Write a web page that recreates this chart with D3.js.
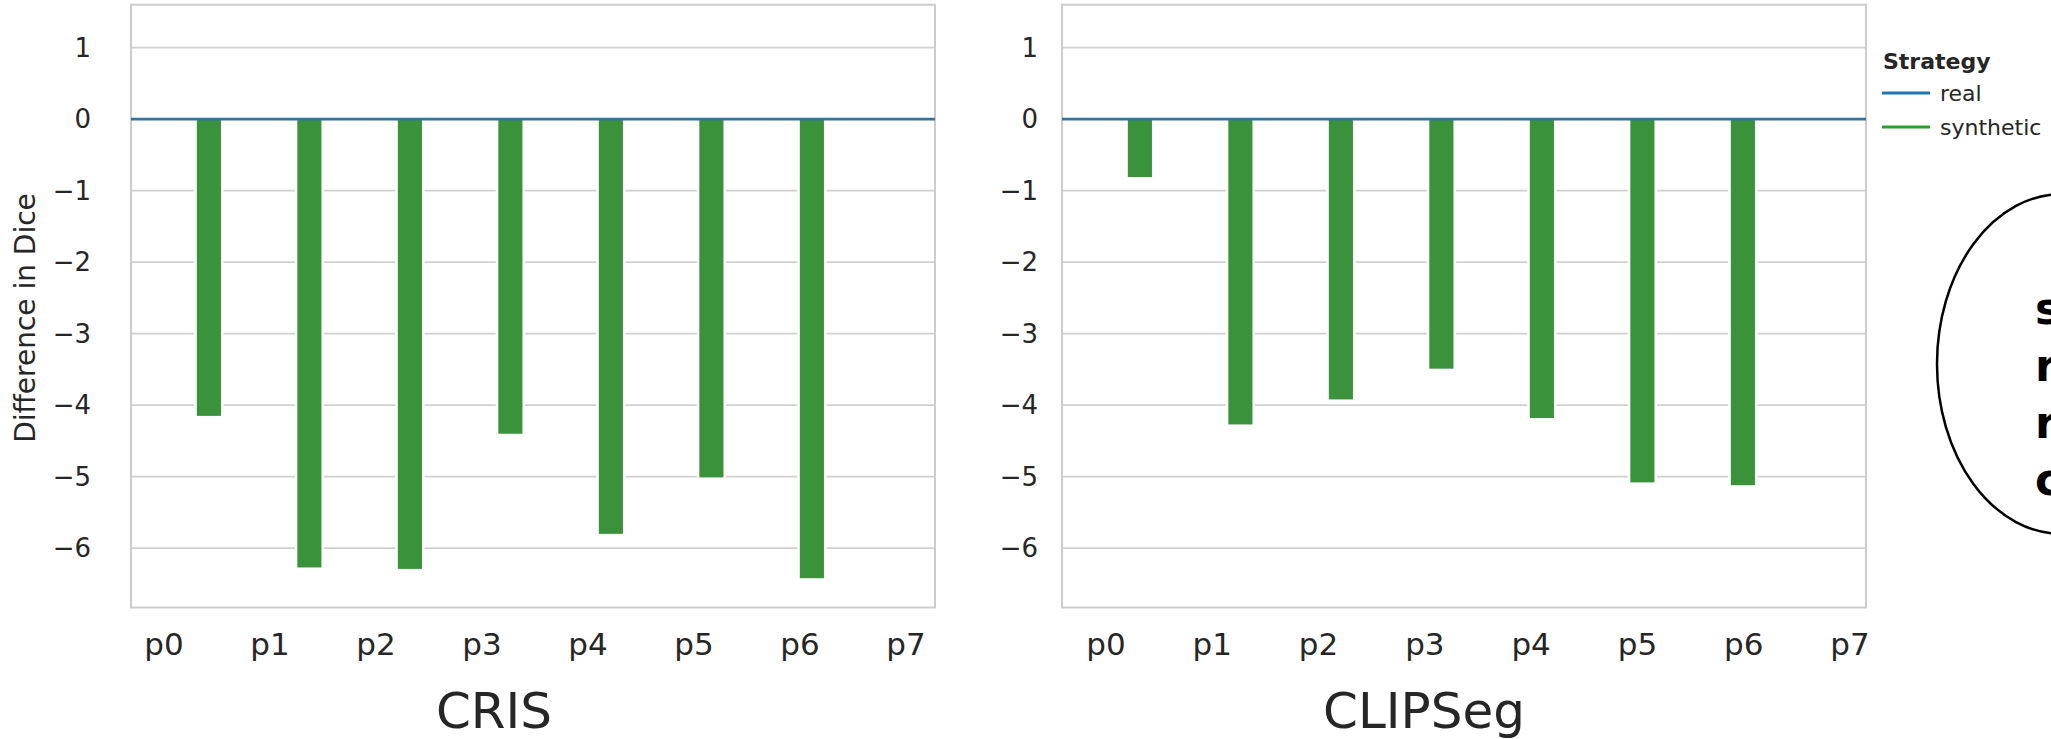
<!DOCTYPE html>
<html>
<head>
<meta charset="utf-8">
<script src="https://cdn.jsdelivr.net/npm/d3@7"></script>
<style>
  html, body { margin: 0; padding: 0; background: #fff; }
  svg { display: block; font-family: "DejaVu Sans", sans-serif; }
</style>
</head>
<body>
<svg id="chart" width="2051" height="739"></svg>
<script>
// ---- data ----
const categories = ["p0", "p1", "p2", "p3", "p4", "p5", "p6", "p7"];
const models = ["CRIS", "CLIPSeg"];
const crisSynthetic = [-4.15, -6.27, -6.29, -4.40, -5.80, -5.01, -6.42, null];
const clipsegSynthetic = [-0.81, -4.27, -3.92, -3.49, -4.18, -5.08, -5.12, null];
const realBaseline = 0;
const yTicks = [1, 0, -1, -2, -3, -4, -5, -6];
const legendTitle = "Strategy";
const legendItems = ["real", "synthetic"];
const noteLines = ["synthetic", "rivals", "real", "counterparts"];
const yLabel = "Difference in Dice";

// ---- style / layout ----
const textColor = "#262626";
const gridColor = "#d0d0d0";
const greenBar = "#3a923a";
const blueLine = "#3274a1";
const legendColors = ["#1f77b4", "#2ca02c"];
const plotTop = 4.7, plotBottom = 607.5;
const panels = [
  { name: models[0], values: crisSynthetic, x0: 131, x1: 935, tickRight: 91, lblPad: [33, 29], titleX: 494 },
  { name: models[1], values: clipsegSynthetic, x0: 1062, x1: 1866, tickRight: 1038, lblPad: [44, 16], titleX: 1424 }
];

const svg = d3.select("#chart");
const y = d3.scaleLinear().domain([-6.83, 1.6]).range([plotBottom, plotTop]);

panels.forEach(p => {
  const g = svg.append("g");
  const x = d3.scaleBand().domain(categories).range([p.x0, p.x1]).paddingInner(0).paddingOuter(0);
  const xl = d3.scalePoint().domain(categories).range([p.x0 + p.lblPad[0], p.x1 - p.lblPad[1]]);
  const step = x.step();

  // grid
  g.selectAll("line.grid").data(yTicks).enter().append("line")
    .attr("x1", p.x0).attr("x2", p.x1)
    .attr("y1", d => y(d)).attr("y2", d => y(d))
    .attr("stroke", gridColor).attr("stroke-width", 1.8);

  // y tick labels
  g.selectAll("text.yt").data(yTicks).enter().append("text")
    .attr("x", p.tickRight).attr("y", d => y(d))
    .attr("text-anchor", "end").attr("dominant-baseline", "central")
    .attr("font-size", 26).attr("fill", textColor)
    .text(d => d < 0 ? "\u2212" + Math.abs(d) : String(d));

  // bars (synthetic) with a white halo that breaks the grid lines
  const bw = step * 0.24;
  const halo = 2.6;
  const cx = c => x(c) + step / 2 + step * 0.275;
  const data = categories.map((c, i) => ({ c, v: p.values[i] })).filter(d => d.v !== null);
  g.selectAll("rect.halo").data(data).enter().append("rect")
    .attr("x", d => cx(d.c) - bw / 2 - halo)
    .attr("width", bw + 2 * halo)
    .attr("y", y(realBaseline))
    .attr("height", d => y(d.v) - y(realBaseline))
    .attr("fill", "#ffffff");
  g.selectAll("rect.bar").data(data).enter().append("rect")
    .attr("x", d => cx(d.c) - bw / 2)
    .attr("width", bw)
    .attr("y", y(realBaseline))
    .attr("height", d => y(d.v) - y(realBaseline))
    .attr("fill", greenBar);

  // frame
  g.append("rect").attr("x", p.x0).attr("y", plotTop)
    .attr("width", p.x1 - p.x0).attr("height", plotBottom - plotTop)
    .attr("fill", "none").attr("stroke", "#cccccc").attr("stroke-width", 2);

  // real baseline
  g.append("line").attr("x1", p.x0).attr("x2", p.x1)
    .attr("y1", y(realBaseline)).attr("y2", y(realBaseline))
    .attr("stroke", blueLine).attr("stroke-width", 2.6);

  // x tick labels
  g.selectAll("text.xt").data(categories).enter().append("text")
    .attr("x", d => xl(d)).attr("y", 655)
    .attr("text-anchor", "middle")
    .attr("font-size", 31).attr("fill", textColor)
    .text(d => d);

  // title
  g.append("text").attr("x", p.titleX).attr("y", 728)
    .attr("text-anchor", "middle").attr("font-size", 50).attr("fill", textColor)
    .text(p.name);
});

// y label
svg.append("text")
  .attr("transform", "translate(25,318) rotate(-90)")
  .attr("text-anchor", "middle").attr("dominant-baseline", "central")
  .attr("font-size", 28).attr("fill", textColor)
  .text(yLabel);

// legend
const lg = svg.append("g");
lg.append("text").attr("x", 1883).attr("y", 69)
  .attr("font-size", 22).attr("font-weight", "bold").attr("fill", textColor)
  .text(legendTitle);
lg.selectAll("line.li").data(legendItems).enter().append("line")
  .attr("x1", 1882).attr("x2", 1930)
  .attr("y1", (d, i) => 93 + i * 34).attr("y2", (d, i) => 93 + i * 34)
  .attr("stroke", (d, i) => legendColors[i]).attr("stroke-width", 3);
lg.selectAll("text.li").data(legendItems).enter().append("text")
  .attr("x", 1940).attr("y", (d, i) => 93 + i * 34)
  .attr("dominant-baseline", "central")
  .attr("font-size", 22).attr("fill", textColor)
  .text(d => d);

// annotation ellipse
const ng = svg.append("g");
ng.append("ellipse").attr("cx", 2062).attr("cy", 364).attr("rx", 125).attr("ry", 170)
  .attr("fill", "#fff").attr("stroke", "#000").attr("stroke-width", 2.5);
ng.selectAll("text.note").data(noteLines).enter().append("text")
  .attr("x", 2035).attr("y", (d, i) => 324 + i * 57)
  .attr("font-size", 44).attr("font-weight", "bold").attr("fill", "#000")
  .text(d => d);
</script>
</body>
</html>
